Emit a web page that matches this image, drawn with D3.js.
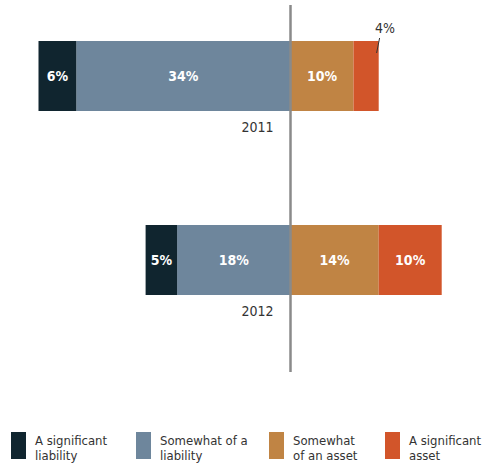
<!DOCTYPE html>
<html>
<head>
<meta charset="utf-8">
<script src="https://cdn.jsdelivr.net/npm/d3@7"></script>
<style>
  html, body { margin: 0; padding: 0; background: #fff; }
  svg { display: block; }
  text { font-family: "DejaVu Sans Condensed", "Liberation Sans Narrow", sans-serif; font-stretch: condensed; }
</style>
</head>
<body>
<svg id="chart" width="496" height="463"></svg>
<script>
// Survey years and answer categories
const years = ["2011", "2012"];
const categories = ["A significant liability", "Somewhat of a liability", "Somewhat of an asset", "A significant asset"];
const legendLines = [["A significant", "liability"], ["Somewhat of a", "liability"], ["Somewhat", "of an asset"], ["A significant", "asset"]];
const colors = ["#10252f", "#6e869c", "#c08444", "#d2552a"];

// Share of respondents (%) per category, one array per year
const values2011 = [6, 34, 10, 4];
const values2012 = [5, 18, 14, 10];
const seriesByYear = { "2011": values2011, "2012": values2012 };

const svg = d3.select("#chart");

// Diverging scale: liabilities to the left of zero, assets to the right
const x = d3.scaleLinear().domain([-40, 24]).range([38.5, 441.7]);
const y = d3.scalePoint().domain(years).range([76, 260]);
const barH = 70;

years.forEach(year => {
  const vals = seriesByYear[year];
  // stack outward from zero: liabilities leftward, assets rightward
  const segs = [];
  let left = 0;
  for (let i = 1; i >= 0; i--) {
    segs.push({ i, x0: left - vals[i], x1: left, v: vals[i] });
    left -= vals[i];
  }
  let right = 0;
  for (let i = 2; i < 4; i++) {
    segs.push({ i, x0: right, x1: right + vals[i], v: vals[i] });
    right += vals[i];
  }
  const g = svg.append("g");
  g.selectAll("rect").data(segs).join("rect")
    .attr("x", d => x(d.x0))
    .attr("width", d => x(d.x1) - x(d.x0))
    .attr("y", y(year) - barH / 2)
    .attr("height", barH)
    .attr("fill", d => colors[d.i]);

  // value labels: inside when the segment is wide enough, otherwise above with a leader
  segs.forEach(d => {
    const w = x(d.x1) - x(d.x0);
    const cx = (x(d.x0) + x(d.x1)) / 2;
    if (w > 30) {
      g.append("text")
        .attr("x", cx).attr("y", y(year) + 5)
        .attr("text-anchor", "middle")
        .attr("fill", "#fff").attr("font-weight", "bold").attr("font-size", 14)
        .text(d.v + "%");
    } else {
      g.append("line")
        .attr("x1", cx + 13.5).attr("y1", y(year) - barH / 2 - 3)
        .attr("x2", cx + 10.5).attr("y2", y(year) - barH / 2 + 12)
        .attr("stroke", "#333").attr("stroke-width", 1);
      g.append("text")
        .attr("x", cx + 19).attr("y", y(year) - barH / 2 - 8)
        .attr("text-anchor", "middle")
        .attr("fill", "#333").attr("font-size", 14)
        .text(d.v + "%");
    }
  });

  // year label under the bar, just left of the zero line
  g.append("text")
    .attr("x", x(0) - 17).attr("y", y(year) + barH / 2 + 21)
    .attr("text-anchor", "end")
    .attr("fill", "#333").attr("font-size", 14)
    .text(year);
});

// zero line
svg.append("line")
  .attr("x1", x(0)).attr("x2", x(0))
  .attr("y1", 5).attr("y2", 372)
  .attr("stroke", "#8a8a8a").attr("stroke-width", 2.5);

// legend
const legendX = [11, 136, 269, 385];
const legend = svg.append("g");
categories.forEach((c, i) => {
  const lg = legend.append("g").attr("transform", `translate(${legendX[i]},432)`);
  lg.append("rect").attr("width", 15).attr("height", 27).attr("fill", colors[i]);
  const t = lg.append("text").attr("x", 24).attr("y", 12.5).attr("fill", "#333").attr("font-size", 13);
  legendLines[i].forEach((line, j) => {
    t.append("tspan").attr("x", 24).attr("dy", j === 0 ? 0 : 15).text(line);
  });
});
</script>
</body>
</html>
